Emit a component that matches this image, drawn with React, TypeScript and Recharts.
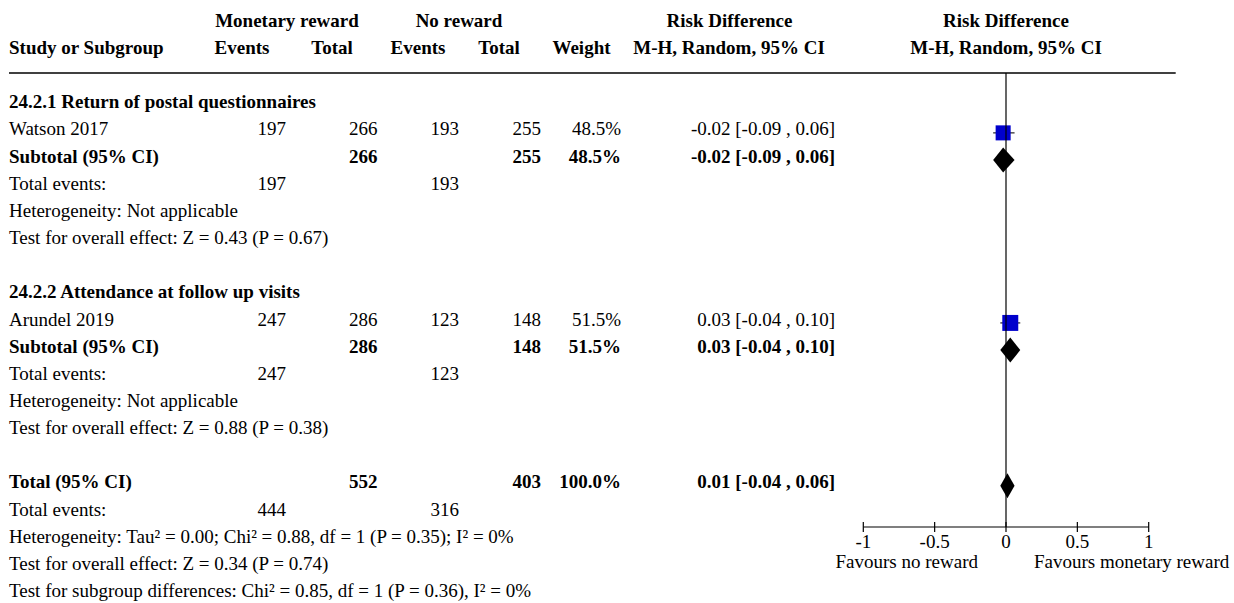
import React from 'react';
import { ComposedChart, Bar, XAxis, YAxis, ReferenceLine } from 'recharts';

// study level data (one study per subgroup)
const subgroupTitles = ['24.2.1 Return of postal questionnaires', '24.2.2 Attendance at follow up visits'];
const studyNames = ['Watson 2017', 'Arundel 2019'];
const rewardEvents = [197, 247];
const rewardTotals = [266, 286];
const noRewardEvents = [193, 123];
const noRewardTotals = [255, 148];
const studyWeights = [48.5, 51.5];
const rdEstimate = [-0.02, 0.03];
const rdLower = [-0.09, -0.04];
const rdUpper = [0.06, 0.1];

// subgroup pooled results
const subRdEstimate = [-0.02, 0.03];
const subRdLower = [-0.09, -0.04];
const subRdUpper = [0.06, 0.1];
const subgroupHeterogeneity = ['Heterogeneity: Not applicable', 'Heterogeneity: Not applicable'];
const subgroupEffectTests = ['Test for overall effect: Z = 0.43 (P = 0.67)', 'Test for overall effect: Z = 0.88 (P = 0.38)'];

// overall pooled result
const totalRewardN = 552;
const totalNoRewardN = 403;
const totalRewardEvents = 444;
const totalNoRewardEvents = 316;
const totalWeight = 100;
const totalRd = [0.01, -0.04, 0.06];
const totalNotes = [
  'Heterogeneity: Tau\u00b2 = 0.00; Chi\u00b2 = 0.88, df = 1 (P = 0.35); I\u00b2 = 0%',
  'Test for overall effect: Z = 0.34 (P = 0.74)',
  'Test for subgroup differences: Chi\u00b2 = 0.85, df = 1 (P = 0.36), I\u00b2 = 0%',
];

const xTicks = [-1, -0.5, 0, 0.5, 1];
const favourLabels = ['Favours no reward', 'Favours monetary reward'];

// layout
const W = 1234;
const H = 603;
const FONT = "'Liberation Serif', 'Times New Roman', serif";
const FS = 19;
const ROW0 = 108.3; // baseline of first table row
const ROW_H = 27.15;
const PLOT_TOP = 73;
const PLOT_BOTTOM = 527;
const PLOT_LEFT = 863.3;
const PLOT_RIGHT = 1148.7;
const X_AXIS_H = 50;
const CELL_X = [286, 377.5, 459, 541, 621, 835];

type Mark = { kind: 'study' | 'diamond'; est: number; lo: number; hi: number; weight: number };
type Row = { label: string; bold?: boolean; cells?: (string | number)[]; mark?: Mark };

const fmtCi = (est: number, lo: number, hi: number) =>
  `${est.toFixed(2)} [${lo.toFixed(2)} , ${hi.toFixed(2)}]`;
const fmtW = (w: number) => `${w.toFixed(1)}%`;

const rows: Row[] = [];
studyNames.forEach((name, i) => {
  rows.push({ label: subgroupTitles[i], bold: true });
  rows.push({
    label: name,
    cells: [rewardEvents[i], rewardTotals[i], noRewardEvents[i], noRewardTotals[i], fmtW(studyWeights[i]), fmtCi(rdEstimate[i], rdLower[i], rdUpper[i])],
    mark: { kind: 'study', est: rdEstimate[i], lo: rdLower[i], hi: rdUpper[i], weight: studyWeights[i] },
  });
  rows.push({
    label: 'Subtotal (95% CI)',
    bold: true,
    cells: ['', rewardTotals[i], '', noRewardTotals[i], fmtW(studyWeights[i]), fmtCi(subRdEstimate[i], subRdLower[i], subRdUpper[i])],
    mark: { kind: 'diamond', est: subRdEstimate[i], lo: subRdLower[i], hi: subRdUpper[i], weight: studyWeights[i] },
  });
  rows.push({ label: 'Total events:', cells: [rewardEvents[i], '', noRewardEvents[i]] });
  rows.push({ label: subgroupHeterogeneity[i] });
  rows.push({ label: subgroupEffectTests[i] });
  rows.push({ label: '' });
});
rows.push({
  label: 'Total (95% CI)',
  bold: true,
  cells: ['', totalRewardN, '', totalNoRewardN, fmtW(totalWeight), fmtCi(totalRd[0], totalRd[1], totalRd[2])],
  mark: { kind: 'diamond', est: totalRd[0], lo: totalRd[1], hi: totalRd[2], weight: totalWeight },
});
rows.push({ label: 'Total events:', cells: [totalRewardEvents, '', totalNoRewardEvents] });
totalNotes.forEach((t) => rows.push({ label: t }));

// rows shown on the plot: everything down to the last row carrying a mark
let lastMarked = 0;
rows.forEach((r, i) => { if (r.mark) lastMarked = i; });
const plotData = rows.slice(0, lastMarked + 1).map((r, i) => ({
  row: i,
  ci: r.mark ? [r.mark.lo, r.mark.hi] : null,
  ...(r.mark || {}),
}));

const padTop = ROW0 - 3 - ROW_H / 2 - PLOT_TOP;
const padBottom = PLOT_BOTTOM - (PLOT_TOP + padTop + plotData.length * ROW_H);

const MarkShape = (props: any) => {
  const { x, y, width, height, payload } = props;
  if (!payload || !payload.kind || !isFinite(x) || !isFinite(width)) return null;
  const cy = y + height / 2;
  const px = (v: number) => x + (width * (v - payload.lo)) / (payload.hi - payload.lo);
  const cx = px(payload.est);
  if (payload.kind === 'study') {
    const s = payload.weight * 0.31;
    return (
      <g>
        <line x1={x} x2={x + width} y1={cy} y2={cy} stroke="#222" strokeWidth={1.2} />
        <rect x={cx - s / 2} y={cy - s / 2} width={s} height={s} fill="#0000cc" />
      </g>
    );
  }
  const h = 12.5;
  return <polygon points={`${x},${cy} ${cx},${cy - h} ${x + width},${cy} ${cx},${cy + h}`} fill="#000" />;
};

const AxisTick = (props: any) => {
  const { x, y, payload } = props;
  return (
    <g>
      <line x1={x} x2={x} y1={y - 5} y2={y + 5} stroke="#000" strokeWidth={1.2} />
      <text x={x} y={y + 21} textAnchor="middle" fontFamily={FONT} fontSize={FS} fill="#000">
        {payload.value}
      </text>
    </g>
  );
};

const T = (p: { x: number; y: number; anchor?: 'start' | 'middle' | 'end'; bold?: boolean; children: React.ReactNode }) => (
  <text x={p.x} y={p.y} textAnchor={p.anchor || 'start'} fontWeight={p.bold ? 'bold' : 'normal'} fontFamily={FONT} fontSize={FS} fill="#000">
    {p.children}
  </text>
);

const App: React.FC = () => {
  const zeroPx = PLOT_LEFT + ((0 - xTicks[0]) / (xTicks[xTicks.length - 1] - xTicks[0])) * (PLOT_RIGHT - PLOT_LEFT);
  return (
    <div style={{ position: 'absolute', left: 0, top: 0, width: W, height: H, background: '#fff' }}>
      <div style={{ position: 'absolute', left: 0, top: 0 }}>
        <ComposedChart
          width={W}
          height={H}
          data={plotData}
          layout="vertical"
          margin={{ top: PLOT_TOP, right: W - PLOT_RIGHT, bottom: H - PLOT_BOTTOM - X_AXIS_H, left: PLOT_LEFT }}
        >
          <XAxis
            type="number"
            domain={[xTicks[0], xTicks[xTicks.length - 1]]}
            ticks={xTicks}
            interval={0}
            height={X_AXIS_H}
            tickSize={0}
            tickMargin={0}
            tickLine={false}
            axisLine={{ stroke: '#000', strokeWidth: 1.2 }}
            tick={<AxisTick />}
          />
          <YAxis type="category" dataKey="row" hide padding={{ top: padTop, bottom: padBottom }} />
          <ReferenceLine x={0} stroke="#000" strokeWidth={1.2} />
          <Bar dataKey="ci" barSize={20} shape={<MarkShape />} isAnimationActive={false} />
        </ComposedChart>
      </div>
      <svg width={W} height={H} style={{ position: 'absolute', left: 0, top: 0, pointerEvents: 'none' }}>
        {/* column headers */}
        <T x={287} y={26.5} anchor="middle" bold>Monetary reward</T>
        <T x={459} y={26.5} anchor="middle" bold>No reward</T>
        <T x={729.5} y={26.5} anchor="middle" bold>Risk Difference</T>
        <T x={1006} y={26.5} anchor="middle" bold>Risk Difference</T>
        <T x={9} y={54} bold>Study or Subgroup</T>
        <T x={242} y={54} anchor="middle" bold>Events</T>
        <T x={332} y={54} anchor="middle" bold>Total</T>
        <T x={418} y={54} anchor="middle" bold>Events</T>
        <T x={499} y={54} anchor="middle" bold>Total</T>
        <T x={581.5} y={54} anchor="middle" bold>Weight</T>
        <T x={729} y={54} anchor="middle" bold>M-H, Random, 95% CI</T>
        <T x={1006} y={54} anchor="middle" bold>M-H, Random, 95% CI</T>
        <line x1={9} x2={1175.7} y1={PLOT_TOP} y2={PLOT_TOP} stroke="#000" strokeWidth={1.5} />

        {/* table body */}
        {rows.map((r, i) => {
          const y = ROW0 + i * ROW_H;
          return (
            <g key={i}>
              {r.label && <T x={9} y={y} bold={r.bold}>{r.label}</T>}
              {(r.cells || []).map((c, j) =>
                c === '' ? null : (
                  <T key={j} x={CELL_X[j]} y={y} anchor="end" bold={r.bold}>{c}</T>
                )
              )}
            </g>
          );
        })}

        {/* direction labels under the axis */}
        <T x={zeroPx - 28} y={568} anchor="end">{favourLabels[0]}</T>
        <T x={zeroPx + 28} y={568}>{favourLabels[1]}</T>
      </svg>
    </div>
  );
};

export default App;
